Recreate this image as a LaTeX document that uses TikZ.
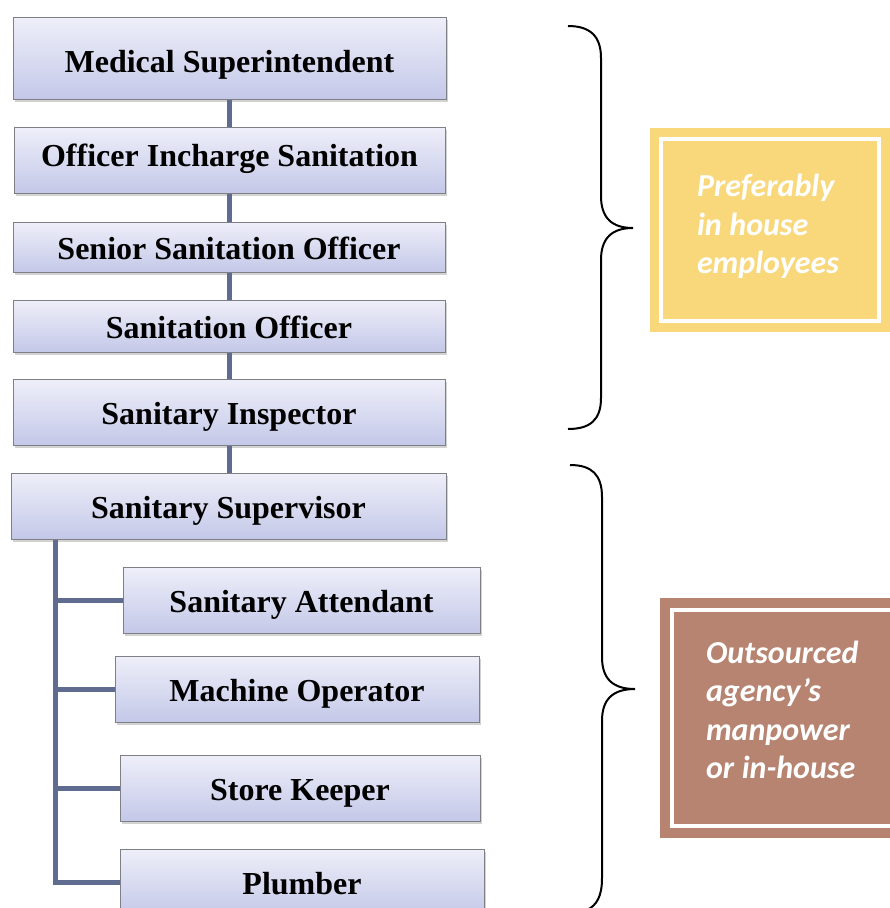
\documentclass[tikz,border=0pt]{standalone}
\usepackage{fontspec}
\setmainfont{Liberation Serif}
\newfontfamily\calfont{Carlito}
\usetikzlibrary{shadows}
\definecolor{boxtop}{HTML}{EEEFF9}
\definecolor{boxbot}{HTML}{C4C8E8}
\definecolor{boxline}{HTML}{7F7F86}
\definecolor{conncol}{HTML}{5F6B8F}
\definecolor{ycol}{HTML}{F9D87C}
\definecolor{bcol}{HTML}{B78472}
\begin{document}
\begin{tikzpicture}[x=1pt,y=-1pt,
  orgbox/.style={draw=boxline, line width=1pt, top color=boxtop, bottom color=boxbot,
    inner sep=0pt, font=\fontsize{32}{36}\selectfont\bfseries,
    text height=25pt, text depth=0pt,
    drop shadow={shadow xshift=1.5pt, shadow yshift=-2.5pt, opacity=0.35}},
  conn/.style={draw=conncol, line width=5pt},
  brace/.style={draw=black, line width=2pt},
  note/.style={double=white, double distance=4pt, inner sep=0pt, align=left, text=white,
    font=\calfont\bfseries\itshape\fontsize{32}{38.5}\selectfont}
]
\useasboundingbox (0,0) rectangle (890,908);
\fill[white] (0,0) rectangle (890,908);

% chain of boxes
\node[orgbox, minimum width=433pt, minimum height=82pt, text height=28pt] (ms) at (229.5,58) {Medical Superintendent};
\node[orgbox, minimum width=431pt, minimum height=66pt, text height=13pt] (oi) at (229.5,160) {Officer Incharge Sanitation};
\node[orgbox, minimum width=432pt, minimum height=50pt] (ss) at (229,247) {Senior Sanitation Officer};
\node[orgbox, minimum width=432pt, minimum height=52pt] (so) at (229,326) {Sanitation Officer};
\node[orgbox, minimum width=432pt, minimum height=66pt] (si) at (229,412) {Sanitary Inspector};
\node[orgbox, minimum width=435pt, minimum height=66pt] (sv) at (228.5,506) {Sanitary Supervisor};
\node[orgbox, minimum width=357pt, minimum height=66pt] (sa) at (301.5,600) {Sanitary Attendant};
\node[orgbox, minimum width=364pt, minimum height=66pt] (mo) at (297,689) {Machine Operator};
\node[orgbox, minimum width=360pt, minimum height=66pt] (sk) at (300,788) {Store Keeper};
\node[orgbox, minimum width=364pt, minimum height=66pt] (pl) at (302,882) {Plumber};

% connectors
\draw[conn] (ms.south) -- (ms.south |- oi.north);
\draw[conn] (oi.south) -- (oi.south |- ss.north);
\draw[conn] (ss.south) -- (ss.south |- so.north);
\draw[conn] (so.south) -- (so.south |- si.north);
\draw[conn] (si.south) -- (si.south |- sv.north);
\coordinate (trunk) at ([xshift=45pt]sv.south west);
\draw[conn] (trunk) |- (pl.west);
\foreach \n in {sa,mo,sk} \draw[conn] (trunk |- \n.west) -- (\n.west);

% braces
\draw[brace] (568,26) .. controls (590,26) and (601,36) .. (601,58) -- (601,196)
  .. controls (601,218) and (612,228) .. (633,228)
  .. controls (612,228) and (601,238) .. (601,260) -- (601,398)
  .. controls (601,420) and (590,429) .. (568,429);
\draw[brace] (570,465) .. controls (592,465) and (602,475) .. (602,497) -- (602,657)
  .. controls (602,679) and (613,689) .. (635,689)
  .. controls (613,689) and (602,699) .. (602,721) -- (602,878)
  .. controls (602,896) and (597,905) .. (587,910);

% notes
\node[note, draw=ycol, fill=ycol, line width=9pt, minimum width=218pt, minimum height=182pt,
  text width=146pt] (pref) at (770,230) {\mbox{Preferably}\\\mbox{in\hspace{-3pt} house}\\\mbox{employees}\rule[-12pt]{0pt}{0pt}};
\node[note, draw=bcol, fill=bcol, line width=10pt, minimum width=233pt, minimum height=216pt,
  text width=165pt] (outs) at (788.5,718) {\mbox{Outsourced}\\\mbox{agency’s}\\\mbox{manpower}\\\mbox{or\hspace{-3pt} in-house}\rule[-16pt]{0pt}{0pt}};
\end{tikzpicture}
\end{document}
